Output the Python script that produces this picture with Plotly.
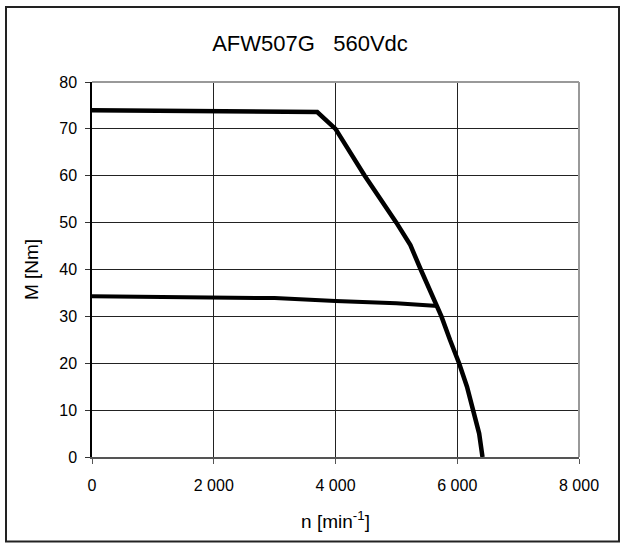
import plotly.graph_objects as go

# Data
peak_n = [0, 3700, 4000, 4480, 5000, 5230, 5400, 5640, 5740, 5880, 6030, 6160, 6260, 6360, 6415]
peak_M = [74.0, 73.6, 70.0, 60.0, 50.0, 45.2, 40.0, 33.0, 30.0, 25.0, 20.0, 15.0, 10.0, 5.0, 0.0]

cont_n = [0, 3000, 4000, 5000, 5680]
cont_M = [34.3, 33.9, 33.3, 32.8, 32.2]

x_ticks = [0, 2000, 4000, 6000, 8000]
x_ticktext = ["0", "2 000", "4 000", "6 000", "8 000"]
y_ticks = [0, 10, 20, 30, 40, 50, 60, 70, 80]

title = "AFW507G   560Vdc"
x_title = "n [min<sup>-1</sup>]"
y_title = "M [Nm]"

W, H = 620, 543
L, R, T, B = 92, 41, 82, 86
pw, ph = W - L - R, H - T - B

def px(xp):
    return (xp - L) / pw

def py(yp):
    return (H - B - yp) / ph

fig = go.Figure()
fig.add_trace(go.Scatter(x=peak_n, y=peak_M, mode="lines",
                         line=dict(color="black", width=4.5), showlegend=False))
fig.add_trace(go.Scatter(x=cont_n, y=cont_M, mode="lines",
                         line=dict(color="black", width=4), showlegend=False))

font = "Liberation Sans, Arial, sans-serif"
fig.update_layout(
    width=W, height=H,
    margin=dict(l=L, r=R, t=T, b=B),
    paper_bgcolor="white", plot_bgcolor="white",
    font=dict(family=font, color="black", size=16),
    title=dict(text=title, x=0.5, xanchor="center", y=1 - 43 / H, yanchor="middle",
               font=dict(size=22, family=font, color="black")),
    xaxis=dict(range=[0, 8000], tickvals=x_ticks, ticktext=x_ticktext,
               showgrid=True, gridcolor="#222", gridwidth=1,
               showline=True, linecolor="#555", linewidth=1.5,
               ticks="outside", ticklen=5, tickcolor="#555",
               ticklabelstandoff=8,
               zeroline=False,
               title=dict(text=x_title, font=dict(size=19), standoff=22),
               tickfont=dict(size=16)),
    yaxis=dict(range=[0, 80], tickvals=y_ticks,
               showgrid=True, gridcolor="#222", gridwidth=1,
               showline=True, linecolor="black", linewidth=1.5,
               ticks="outside", ticklen=5, tickcolor="#333",
               ticklabelstandoff=5,
               zeroline=False,
               title=dict(text=y_title, font=dict(size=19), standoff=16),
               tickfont=dict(size=16)),
    shapes=[
        # top and right plot border (gray)
        dict(type="line", xref="paper", yref="paper", x0=0, x1=1, y0=1, y1=1,
             line=dict(color="#999", width=2)),
        dict(type="line", xref="paper", yref="paper", x0=1, x1=1, y0=0, y1=1,
             line=dict(color="#999", width=2)),
        # outer frame
        dict(type="rect", xref="paper", yref="paper",
             x0=px(6), x1=px(619), y0=py(541.5), y1=py(7),
             line=dict(color="#222", width=2), layer="below"),
    ],
)

fig.write_html("out.html", config={"displayModeBar": False},
               post_script="document.body.style.margin='0';")
